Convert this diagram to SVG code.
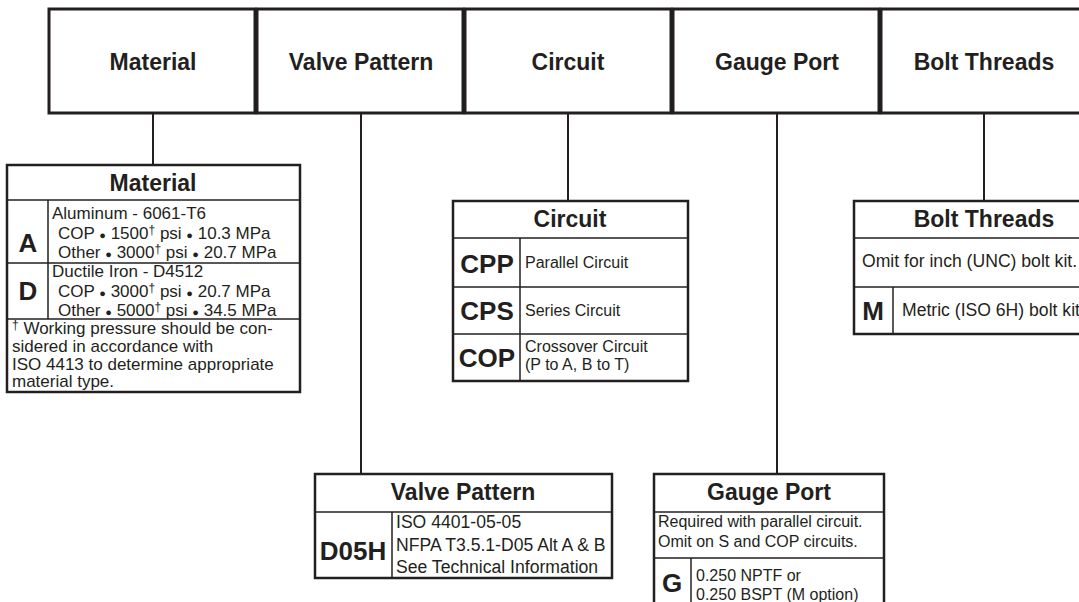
<svg xmlns="http://www.w3.org/2000/svg" width="1079" height="602" viewBox="0 0 1079 602">
<style>
.box{fill:#fff;stroke:#231f20;stroke-width:2.5}
.top{fill:#fff;stroke:#231f20;stroke-width:3}
.div{stroke:#231f20;stroke-width:1.5;fill:none}
.con{stroke:#231f20;stroke-width:2;fill:none}
.t{font-family:"Liberation Sans",Arial,sans-serif;fill:#231f20}
.h{font-weight:bold;font-size:23px;text-anchor:middle}
.k{font-weight:bold;font-size:26px;text-anchor:middle}
.b{font-size:16px}
.m{font-size:17px}
.l{font-size:17.6px}
.s{font-size:11px}
.sup{font-size:12px}
</style>
<rect width="1079" height="602" fill="#fff"/>
<g id="connectors">
<line class="con" x1="153" y1="113" x2="153" y2="165"/>
<line class="con" x1="361" y1="113" x2="361" y2="474"/>
<line class="con" x1="568" y1="113" x2="568" y2="201"/>
<line class="con" x1="777" y1="113" x2="777" y2="474"/>
<line class="con" x1="984" y1="113" x2="984" y2="201"/>
</g>
<g id="top-material"><rect class="top" x="49" y="9" width="206" height="104"/><text class="t h" x="153" y="70">Material</text></g>
<g id="top-valve"><rect class="top" x="257" y="9" width="206" height="104"/><text class="t h" x="361" y="70">Valve Pattern</text></g>
<g id="top-circuit"><rect class="top" x="465" y="9" width="206" height="104"/><text class="t h" x="568" y="70">Circuit</text></g>
<g id="top-gauge"><rect class="top" x="673" y="9" width="206" height="104"/><text class="t h" x="777" y="70">Gauge Port</text></g>
<g id="top-bolt"><rect class="top" x="881" y="9" width="210" height="104"/><text class="t h" x="984" y="70">Bolt Threads</text></g>

<g id="material">
<rect class="box" x="7" y="165" width="293" height="227"/>
<line class="div" x1="7" y1="200" x2="300" y2="200"/>
<line class="div" x1="7" y1="263" x2="300" y2="263"/>
<line class="div" x1="7" y1="319" x2="300" y2="319"/>
<line class="div" x1="48" y1="200" x2="48" y2="319"/>
<text class="t h" x="153" y="191">Material</text>
<text class="t k" x="28" y="252">A</text>
<text class="t m" x="52" y="219">Aluminum - 6061-T6</text>
<text class="t m" x="58" y="239">COP <tspan class="s">●</tspan> 1500<tspan class="sup" baseline-shift="40%">†</tspan> psi <tspan class="s">●</tspan> 10.3 MPa</text>
<text class="t m" x="58" y="258">Other <tspan class="s">●</tspan> 3000<tspan class="sup" baseline-shift="40%">†</tspan> psi <tspan class="s">●</tspan> 20.7 MPa</text>
<text class="t k" x="28" y="300">D</text>
<text class="t m" x="52" y="277">Ductile Iron - D4512</text>
<text class="t m" x="58" y="297">COP <tspan class="s">●</tspan> 3000<tspan class="sup" baseline-shift="40%">†</tspan> psi <tspan class="s">●</tspan> 20.7 MPa</text>
<text class="t m" x="58" y="316">Other <tspan class="s">●</tspan> 5000<tspan class="sup" baseline-shift="40%">†</tspan> psi <tspan class="s">●</tspan> 34.5 MPa</text>
<text class="t m" x="12" y="334"><tspan class="sup" baseline-shift="40%">†</tspan> Working pressure should be con-</text>
<text class="t m" x="12" y="352">sidered in accordance with</text>
<text class="t m" x="12" y="370">ISO 4413 to determine appropriate</text>
<text class="t m" x="12" y="387">material type.</text>
</g>

<g id="circuit">
<rect class="box" x="453" y="201" width="235" height="180"/>
<line class="div" x1="453" y1="238" x2="688" y2="238"/>
<line class="div" x1="453" y1="287" x2="688" y2="287"/>
<line class="div" x1="453" y1="334" x2="688" y2="334"/>
<line class="div" x1="520" y1="238" x2="520" y2="381"/>
<text class="t h" x="570" y="227">Circuit</text>
<text class="t k" x="487" y="273">CPP</text>
<text class="t b" x="525" y="268">Parallel Circuit</text>
<text class="t k" x="487" y="320">CPS</text>
<text class="t b" x="525" y="316">Series Circuit</text>
<text class="t k" x="487" y="367">COP</text>
<text class="t b" x="525" y="352">Crossover Circuit</text>
<text class="t b" x="525" y="370">(P to A, B to T)</text>
</g>

<g id="bolt">
<rect class="box" x="854" y="201" width="240" height="133"/>
<line class="div" x1="854" y1="238" x2="1079" y2="238"/>
<line class="div" x1="854" y1="287" x2="1079" y2="287"/>
<line class="div" x1="893" y1="287" x2="893" y2="334"/>
<text class="t h" x="984" y="227">Bolt Threads</text>
<text class="t l" x="862" y="267">Omit for inch (UNC) bolt kit.</text>
<text class="t k" x="873" y="320">M</text>
<text class="t l" x="902" y="316">Metric (ISO 6H) bolt kit</text>
</g>

<g id="valve">
<rect class="box" x="315" y="474" width="297" height="104"/>
<line class="div" x1="315" y1="512" x2="612" y2="512"/>
<line class="div" x1="392" y1="512" x2="392" y2="578"/>
<text class="t h" x="463" y="500">Valve Pattern</text>
<text class="t k" x="353" y="560">D05H</text>
<text class="t l" x="396" y="528">ISO 4401-05-05</text>
<text class="t l" x="396" y="551">NFPA T3.5.1-D05 Alt A &amp; B</text>
<text class="t l" x="396" y="573">See Technical Information</text>
</g>

<g id="gauge">
<rect class="box" x="654" y="474" width="230" height="140"/>
<line class="div" x1="654" y1="512" x2="884" y2="512"/>
<line class="div" x1="654" y1="558" x2="884" y2="558"/>
<line class="div" x1="691" y1="558" x2="691" y2="602"/>
<text class="t h" x="769" y="500">Gauge Port</text>
<text class="t b" x="658" y="527">Required with parallel circuit.</text>
<text class="t b" x="658" y="547">Omit on S and COP circuits.</text>
<text class="t k" x="672" y="592">G</text>
<text class="t b" x="696" y="581">0.250 NPTF or</text>
<text class="t b" x="696" y="600">0.250 BSPT (M option)</text>
</g>
</svg>
